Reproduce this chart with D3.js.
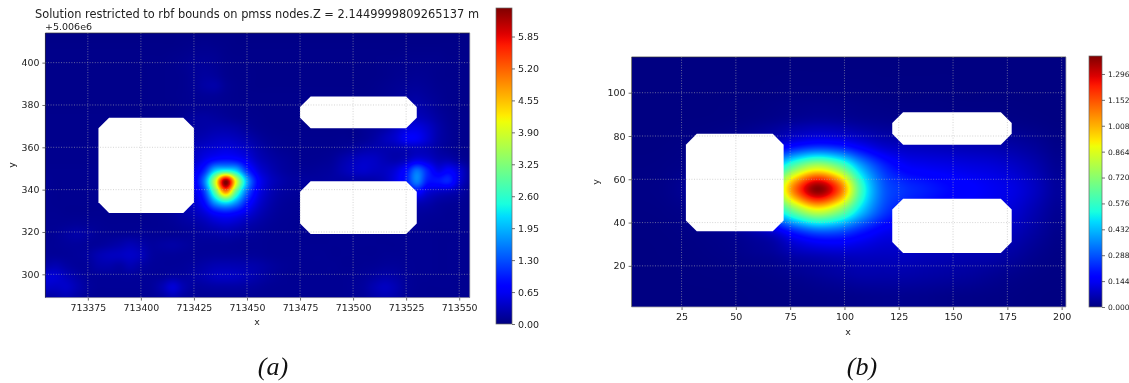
<!DOCTYPE html>
<html><head><meta charset="utf-8">
<script src="https://cdn.jsdelivr.net/npm/d3@7"></script>
<style>
html,body{margin:0;padding:0;background:#fff;width:1129px;height:383px;overflow:hidden}
#wrap{position:relative;width:1129px;height:383px;filter:blur(0.45px)}
canvas,svg{position:absolute;left:0;top:0}
text{font-family:"DejaVu Sans";fill:#222}
</style></head><body><div id="wrap"></div>
<script>
// ---- Panel (a) values
const xNodesA=[713355,713360,713365,713370,713375,713380,713385,713390,713395,713400,713405,713410,713415,713420,713425,713430,713435,713440,713445,713450,713455,713460,713465,713470,713475,713480,713485,713490,713495,713500,713505,713510,713515,713520,713525,713530,713535,713540,713545,713550,713555];
const yNodesA=[414,409,404,399,394,389,384,379,374,369,364,359,354,349,344,339,334,329,324,319,314,309,304,299,294,289];
const valuesA=[
[.05,.05,.05,.05,.05,.05,.05,.05,.05,.05, .05,.05,.05,.05,.05,.05,.05,.05,.05,.05, .05,.05,.05,.05,.05,.05,.05,.05,.05,.05, .05,.05,.05,.05,.05,.05,.05,.05,.05,.05, .05],
[.05,.05,.05,.05,.05,.05,.05,.05,.05,.05, .05,.05,.05,.06,.07,.08,.07,.06,.05,.05, .05,.05,.05,.05,.05,.05,.05,.05,.05,.05, .05,.05,.05,.05,.05,.05,.05,.05,.05,.05, .05],
[.06,.06,.06,.06,.06,.06,.06,.06,.06,.06, .06,.06,.07,.08,.1,.11,.1,.07,.06,.06, .06,.06,.06,.06,.06,.06,.06,.06,.06,.06, .06,.06,.06,.06,.07,.07,.07,.07,.06,.06, .06],
[.06,.06,.06,.06,.06,.06,.06,.06,.06,.06, .07,.07,.08,.1,.13,.14,.12,.08,.07,.06, .06,.06,.06,.06,.06,.06,.06,.06,.06,.06, .06,.06,.07,.08,.09,.09,.09,.08,.07,.07, .06],
[.06,.06,.06,.06,.06,.06,.06,.06,.06,.06, .07,.07,.08,.09,.13,.17,.15,.09,.07,.07, .06,.06,.06,.06,.06,.06,.06,.06,.06,.06, .06,.06,.07,.09,.1,.11,.1,.08,.07,.07, .06],
[.06,.06,.06,.06,.06,.06,.06,.06,.06,.06, .07,.07,.08,.09,.13,.2,.22,.12,.08,.07, .06,.06,.06,.06,.06,.06,.06,.06,.06,.06, .06,.07,.09,.11,.13,.14,.12,.09,.08,.07, .06],
[.06,.06,.06,.06,.06,.06,.06,.06,.06,.06, .07,.07,.08,.09,.11,.13,.13,.1,.08,.07, .07,.07,.07,.07,.07,.07,.07,.07,.07,.07, .07,.08,.1,.13,.17,.19,.15,.11,.08,.07, .06],
[.06,.06,.06,.06,.06,.06,.06,.06,.06,.06, .07,.07,.07,.09,.11,.12,.12,.1,.09,.08, .07,.07,.07,.07,.07,.07,.07,.07,.07,.07, .08,.09,.12,.17,.22,.25,.2,.13,.09,.07, .06],
[.07,.07,.07,.07,.07,.07,.07,.07,.07,.07, .07,.08,.09,.11,.17,.19,.17,.14,.11,.09, .08,.07,.07,.07,.07,.07,.07,.07,.07,.07, .09,.11,.17,.24,.32,.34,.28,.18,.11,.08, .07],
[.07,.07,.07,.07,.07,.07,.07,.07,.07,.07, .08,.09,.11,.14,.19,.22,.25,.25,.22,.15, .1,.08,.07,.07,.07,.07,.07,.07,.07,.07, .11,.15,.22,.36,.52,.55,.42,.24,.13,.09, .07],
[.07,.07,.07,.07,.07,.07,.07,.07,.07,.07, .09,.11,.14,.19,.24,.3,.36,.38,.34,.26, .17,.11,.09,.08,.08,.08,.08,.08,.09,.09, .13,.2,.32,.44,.66,.66,.46,.24,.14,.09, .07],
[.08,.08,.08,.08,.08,.08,.08,.08,.08,.08, .11,.14,.19,.25,.34,.44,.5,.55,.5,.4, .26,.17,.12,.1,.09,.09,.09,.1,.13,.18, .24,.27,.26,.26,.3,.34,.3,.2,.13,.09, .07],
[.08,.08,.08,.08,.08,.08,.08,.08,.08,.08, .12,.17,.24,.3,.4,.62,.84,.92,.84,.6, .36,.24,.17,.13,.1,.1,.11,.14,.24,.33, .4,.38,.3,.26,.36,.55,.46,.3,.28,.17, .09],
[.09,.09,.09,.09,.09,.09,.09,.09,.09,.09, .13,.19,.27,.36,.55,1.05,2.1,2.45,2.1,1.1, .55,.33,.21,.15,.13,.13,.15,.18,.28,.37, .42,.37,.37,.5,.85,1.5,1.0,.58,.72,.48, .18],
[.11,.09,.09,.09,.09,.09,.09,.09,.09,.09, .13,.19,.29,.42,.65,1.6,3.8,6.4,3.95,1.9, .8,.42,.27,.19,.17,.17,.17,.19,.19,.21, .21,.24,.33,.55,.92,1.6,.95,.9,1.0,.48, .18],
[.11,.09,.09,.09,.09,.09,.09,.09,.09,.09, .13,.19,.27,.38,.55,1.2,3.0,4.9,2.95,1.45, .66,.35,.21,.16,.14,.14,.15,.15,.17,.17, .17,.19,.24,.35,.55,.82,.5,.38,.33,.23, .11],
[.1,.09,.09,.09,.09,.09,.09,.09,.09,.09, .11,.17,.23,.31,.44,.85,1.8,2.3,1.75,.95, .5,.28,.17,.13,.12,.12,.12,.12,.13,.13, .14,.15,.17,.2,.28,.32,.26,.18,.15,.13, .09],
[.1,.1,.09,.09,.09,.09,.09,.09,.09,.09, .11,.13,.17,.24,.33,.5,.78,.9,.78,.55, .34,.21,.14,.12,.11,.11,.11,.11,.11,.11, .11,.12,.13,.15,.17,.17,.15,.13,.11,.11, .09],
[.11,.11,.12,.13,.12,.11,.1,.1,.1,.1, .1,.11,.13,.17,.21,.29,.4,.46,.4,.29, .21,.15,.12,.11,.1,.1,.1,.1,.1,.1, .1,.1,.11,.11,.13,.13,.12,.11,.11,.1, .09],
[.11,.13,.18,.22,.18,.13,.12,.12,.13,.13, .12,.12,.12,.13,.15,.19,.21,.24,.21,.17, .14,.12,.11,.11,.1,.1,.1,.1,.1,.1, .1,.1,.1,.11,.11,.11,.11,.1,.1,.1, .09],
[.12,.13,.15,.16,.14,.15,.19,.24,.3,.24, .17,.19,.21,.18,.15,.14,.14,.14,.13,.12, .12,.11,.11,.11,.1,.1,.1,.1,.1,.1, .1,.1,.1,.1,.11,.11,.11,.1,.1,.1, .09],
[.14,.14,.14,.15,.18,.28,.34,.36,.4,.33, .18,.15,.15,.14,.14,.15,.16,.16,.16,.15, .14,.12,.11,.11,.11,.11,.11,.1,.1,.1, .1,.1,.11,.11,.11,.11,.11,.1,.1,.1, .09],
[.24,.28,.2,.15,.15,.23,.24,.2,.28,.2, .15,.14,.14,.15,.18,.23,.28,.29,.28,.26, .23,.18,.14,.12,.11,.11,.11,.11,.1,.1, .11,.12,.14,.14,.12,.11,.11,.1,.1,.1, .09],
[.48,.46,.33,.22,.15,.14,.14,.14,.15,.14, .14,.15,.2,.18,.22,.28,.36,.38,.36,.3, .23,.17,.13,.11,.11,.11,.11,.11,.11,.12, .14,.18,.23,.2,.14,.11,.11,.1,.1,.1, .09],
[.4,.38,.4,.28,.17,.13,.13,.13,.13,.13, .15,.28,.48,.28,.17,.18,.2,.2,.2,.18, .15,.12,.11,.11,.11,.11,.11,.11,.11,.13, .17,.28,.36,.28,.15,.11,.1,.1,.1,.09, .09],
[.18,.23,.28,.2,.13,.11,.11,.11,.11,.11, .13,.18,.28,.18,.13,.12,.12,.12,.12,.12, .11,.11,.11,.1,.1,.1,.1,.1,.11,.12, .15,.23,.28,.23,.13,.1,.1,.09,.09,.09, .09]
];
const maxA=6.43;
const xTicksA=[713375,713400,713425,713450,713475,713500,713525,713550];
const yTicksA=[300,320,340,360,380,400];
const barTicksA=[0,0.65,1.3,1.95,2.6,3.25,3.9,4.55,5.2,5.85];
const holesA=[
 [[713385,374],[713420,374],[713425,369],[713425,334],[713420,329],[713385,329],[713380,334],[713380,369]],
 [[713480,384],[713525,384],[713530,379],[713530,374],[713525,369],[713480,369],[713475,374],[713475,379]],
 [[713480,344],[713525,344],[713530,339],[713530,324],[713525,319],[713480,319],[713475,324],[713475,339]]
];
// ---- Panel (b) values
const xNodesB=[7.5,17.5,27.5,37.5,47.5,57.5,67.5,77.5,87.5,97.5,107.5,117.5,127.5,137.5,147.5,157.5,167.5,177.5,187.5,197.5];
const yNodesB=[115.5,105.5,95.5,85.5,75.5,65.5,55.5,45.5,35.5,25.5,15.5,5.5];
const valuesB=[
[.003,.003,.003,.003,.003,.003,.003,.003,.003,.003,.003,.003,.003,.003,.003,.003,.003,.003,.003,.003],
[.003,.003,.003,.003,.003,.003,.004,.005,.005,.005,.005,.004,.004,.004,.004,.003,.003,.003,.003,.003],
[.003,.003,.003,.003,.004,.005,.008,.012,.014,.013,.01,.008,.007,.007,.006,.005,.005,.004,.003,.003],
[.003,.003,.004,.005,.008,.014,.024,.04,.05,.045,.032,.024,.02,.018,.016,.015,.014,.012,.008,.004],
[.004,.005,.008,.014,.03,.06,.11,.18,.22,.2,.14,.09,.075,.07,.065,.06,.055,.045,.03,.012],
[.006,.008,.015,.04,.09,.2,.42,.68,.83,.7,.42,.24,.16,.14,.13,.12,.11,.09,.06,.025],
[.008,.012,.03,.07,.16,.34,.66,1.12,1.39,1.15,.6,.31,.24,.21,.18,.16,.14,.12,.08,.035],
[.006,.008,.015,.04,.09,.2,.44,.7,.86,.73,.46,.27,.19,.16,.14,.13,.12,.1,.06,.025],
[.004,.005,.008,.014,.025,.05,.1,.21,.28,.27,.2,.14,.12,.11,.1,.1,.09,.07,.04,.015],
[.003,.004,.005,.008,.012,.02,.03,.06,.075,.085,.085,.08,.08,.07,.065,.06,.055,.04,.02,.008],
[.003,.003,.004,.005,.006,.008,.012,.02,.03,.04,.05,.05,.05,.045,.04,.035,.025,.015,.008,.005],
[.003,.003,.003,.003,.004,.005,.006,.008,.01,.012,.015,.018,.018,.016,.012,.01,.008,.006,.004,.003]
];
const maxB=1.396;
const xTicksB=[25,50,75,100,125,150,175,200];
const yTicksB=[20,40,60,80,100];
const barTicksB=[0,0.144,0.288,0.432,0.576,0.72,0.864,1.008,1.152,1.296];
const holesB=[
 [[32,81],[67,81],[72,76],[72,41],[67,36],[32,36],[27,41],[27,76]],
 [[127,91],[172,91],[177,86],[177,81],[172,76],[127,76],[122,81],[122,86]],
 [[127,51],[172,51],[177,46],[177,31],[172,26],[127,26],[122,31],[122,46]]
];
// jet colormap anchors (matplotlib)
const jetR=[[0,.35,.66,.89,1],[0,0,1,1,.5]];
const jetG=[[0,.125,.375,.64,.91,1],[0,0,1,1,0,0]];
const jetB=[[0,.11,.34,.65,1],[.5,1,1,0,0]];
const sr=d3.scaleLinear(jetR[0],jetR[1]).clamp(true),sg=d3.scaleLinear(jetG[0],jetG[1]).clamp(true),sb=d3.scaleLinear(jetB[0],jetB[1]).clamp(true);
const jet=t=>[sr(t)*255,sg(t)*255,sb(t)*255];

const W=1129,H=383;
const wrap=d3.select('#wrap');
const svg=wrap.append('svg').attr('width',W).attr('height',H);
const defs=svg.append('defs');
const cr=(p0,p1,p2,p3,t)=>0.5*(2*p1+(p2-p0)*t+(2*p0-5*p1+4*p2-p3)*t*t+(3*p1-p0-3*p2+p3)*t*t*t);

function panel(c){
  const x=d3.scaleLinear(c.xDom,[c.l,c.r]), y=d3.scaleLinear(c.yDom,[c.b,c.t]);
  const cl0=Math.round(c.l),cr0=Math.round(c.r),ct0=Math.round(c.t),cb0=Math.round(c.b);
  const cv=wrap.insert('canvas','svg').attr('width',cr0-cl0).attr('height',cb0-ct0)
    .style('left',cl0+'px').style('top',ct0+'px').node();
  const ctx=cv.getContext('2d'),img=ctx.createImageData(cv.width,cv.height);
  const gx=d3.scaleLinear(d3.extent(c.xn),[0,c.xn.length-1]).clamp(true);
  const gy=d3.scaleLinear([c.yn[0],c.yn[c.yn.length-1]],[0,c.yn.length-1]).clamp(true);
  const nx=c.xn.length,ny=c.yn.length,cl=(a,n)=>Math.max(0,Math.min(n-1,a));
  for(let j=0;j<cv.height;j++)for(let i=0;i<cv.width;i++){
    const u=gx(x.invert(cl0+i+.5)),v=gy(y.invert(ct0+j+.5));
    const iu=Math.min(Math.floor(u),nx-2),iv=Math.min(Math.floor(v),ny-2),fu=u-iu,fv=v-iv;
    const col=[];
    for(let k=-1;k<3;k++){
      const r=c.vals[cl(iv+k,ny)];
      col.push(cr(r[cl(iu-1,nx)],r[iu],r[iu+1],r[cl(iu+2,nx)],fu));
    }
    const val=Math.max(0,cr(col[0],col[1],col[2],col[3],fv));
    const rgb=jet(val/c.max),o=(j*cv.width+i)*4;
    img.data[o]=rgb[0];img.data[o+1]=rgb[1];img.data[o+2]=rgb[2];img.data[o+3]=255;
  }
  ctx.putImageData(img,0,0);
  const g=svg.append('g');
  const line=d3.line().x(d=>x(d[0])).y(d=>y(d[1])).curve(d3.curveLinearClosed);
  g.selectAll('path.h').data(c.holes).join('path').attr('class','h').attr('d',line).attr('fill','#fff');
  const gridStyle=s=>s.attr('stroke','#b4b4b4').attr('stroke-width',.8).attr('stroke-dasharray','1,1.6').attr('stroke-opacity',.7);
  g.selectAll('line.gx').data(c.xt).join('line').attr('class','gx')
    .attr('x1',d=>x(d)).attr('x2',d=>x(d)).attr('y1',c.t).attr('y2',c.b).call(gridStyle);
  g.selectAll('line.gy').data(c.yt).join('line').attr('class','gy')
    .attr('y1',d=>y(d)).attr('y2',d=>y(d)).attr('x1',c.l).attr('x2',c.r).call(gridStyle);
  const ax=g.append('g').attr('transform',`translate(0,${c.b})`).call(d3.axisBottom(x).tickValues(c.xt).tickFormat(d3.format('d')).tickSize(3).tickSizeOuter(0).tickPadding(3.5));
  const ay=g.append('g').attr('transform',`translate(${c.l},0)`).call(d3.axisLeft(y).tickValues(c.yt).tickFormat(d3.format('d')).tickSize(3).tickSizeOuter(0).tickPadding(3));
  [ax,ay].forEach(a=>{a.selectAll('text').style('font-family','DejaVu Sans').style('font-size',c.fs+'px').style('fill','#222');
    a.selectAll('line').attr('stroke','#333').attr('stroke-width',.7);a.select('.domain').remove();});
  g.append('path').attr('d',`M${c.l},${c.b}V${c.t}H${c.r}`).attr('fill','none').attr('stroke','#333').attr('stroke-width',.7);
  g.append('path').attr('d',`M${c.l},${c.b}H${c.r}V${c.t}`).attr('fill','none').attr('stroke','#aaa').attr('stroke-width',.8);
  g.append('text').attr('x',c.xlab[0]).attr('y',c.xlab[1]).attr('text-anchor','middle').style('font-size',c.fs+'px').text('x');
  g.append('text').attr('transform',`translate(${c.ylab[0]},${c.ylab[1]}) rotate(-90)`).attr('text-anchor','middle').style('font-size',c.fs+'px').text('y');
  const by=d3.scaleLinear([0,c.max],[c.bar.b,c.bar.t]);
  const gid='grad'+c.id;
  const gr=defs.append('linearGradient').attr('id',gid).attr('x1',0).attr('x2',0).attr('y1',1).attr('y2',0);
  d3.range(0,1.0001,.02).forEach(t=>{const q=jet(t);gr.append('stop').attr('offset',t).attr('stop-color',`rgb(${q.map(Math.round)})`);});
  g.append('rect').attr('x',c.bar.l).attr('y',c.bar.t).attr('width',c.bar.r-c.bar.l).attr('height',c.bar.b-c.bar.t).attr('fill',`url(#${gid})`).attr('stroke','#666').attr('stroke-width',.7);
  const bx=g.append('g').attr('transform',`translate(${c.bar.r},0)`).call(d3.axisRight(by).tickValues(c.bt).tickFormat(d3.format(c.bf)).tickSize(3).tickPadding(3));
  bx.select('.domain').remove();
  bx.selectAll('text').style('font-family','DejaVu Sans').style('font-size',c.bfs+'px').style('fill','#222');
  bx.selectAll('line').attr('stroke','#333').attr('stroke-width',.7);
  g.append('text').attr('x',c.cap[0]).attr('y',c.cap[1]).attr('text-anchor','middle')
    .style('font-family','Liberation Serif').style('font-style','italic').style('font-size','26px').style('fill','#111').text(c.capText);
}
panel({id:'a',xDom:[713355,713555],yDom:[289,414],l:45.4,r:469.8,t:33,b:297.6,xn:xNodesA,yn:yNodesA,vals:valuesA,max:maxA,xt:xTicksA,yt:yTicksA,bt:barTicksA,holes:holesA,
  fs:9.4,bfs:9.5,bf:'.2f',xlab:[257,325],ylab:[14.5,165],bar:{l:496,r:512,t:8,b:324},cap:[273,375],capText:'(a)'});
panel({id:'b',xDom:[2,202],yDom:[1,116.5],l:631.6,r:1066,t:57,b:307,xn:xNodesB,yn:yNodesB,vals:valuesB,max:maxB,xt:xTicksB,yt:yTicksB,bt:barTicksB,holes:holesB,
  fs:9.5,bfs:7.5,bf:'.3f',xlab:[848,335],ylab:[599,182],bar:{l:1089,r:1102,t:56,b:307},cap:[862,375],capText:'(b)'});
svg.append('text').attr('x',35).attr('y',18).style('font-size','11.4px').text('Solution restricted to rbf bounds on pmss nodes.Z = 2.1449999809265137 m');
svg.append('text').attr('x',45).attr('y',30).style('font-size','9.5px').text('+5.006e6');
</script></body></html>
